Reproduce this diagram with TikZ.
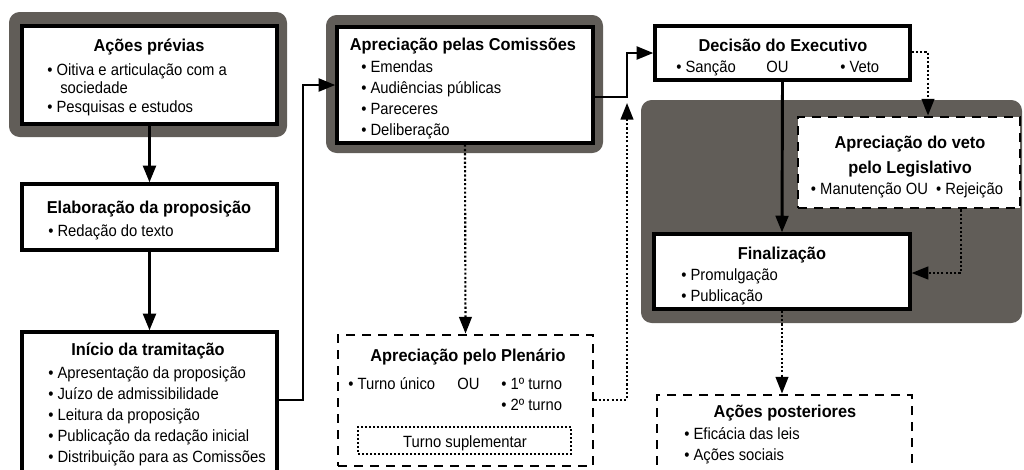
\documentclass[tikz,border=0pt]{standalone}
\usepackage{fontspec}
\setmainfont{Liberation Sans}[FakeStretch=0.91]
\newfontfamily\tfont{Liberation Sans}[FakeStretch=0.95]
\usetikzlibrary{fit,arrows.meta}
\definecolor{framegrey}{RGB}{97,93,88}
\begin{document}
\begin{tikzpicture}[x=0.75pt,y=-0.75pt,
  frame/.style={fill=framegrey,draw=none,rounded corners=8pt,inner sep=0pt},
  box/.style={draw,line width=2.4pt,fill=white,inner sep=0pt},
  dbox/.style={draw,line width=2.2pt,dash pattern=on 7pt off 5pt,fill=white,inner sep=0pt},
  sbox/.style={draw,line width=1.5pt,dash pattern=on 1.5pt off 1.5pt,inner sep=0pt},
  ttl/.style={anchor=base,inner sep=0pt,font=\tfont\bfseries\fontsize{12.9}{14}\selectfont},
  itm/.style={anchor=base west,inner sep=0pt,font=\fontsize{12.2}{14}\selectfont},
  arr/.style={line width=2.2pt,-{Triangle[length=12.5pt,width=9.5pt]}},
  dotarr/.style={line width=1.6pt,dash pattern=on 1.6pt off 1.6pt,-{Triangle[length=12.5pt,width=9.5pt]}}]
\useasboundingbox (0,0) rectangle (1024,469);
% frames
\node[frame,fit={(9,12) (287,137)}] (f1) {};
\node[frame,fit={(326,15) (603,153)}] (f4) {};
\node[frame,fit={(641,100) (1022,323)}] (reg) {};
% boxes
\node[box,fit={(22,26) (277,124)}] (b1) {};
\node[box,fit={(22,184) (277,250)}] (b2) {};
\node[box,fit={(22,332) (277,475)}] (b3) {};
\node[box,fit={(337,27) (593,143)}] (b4) {};
\node[box,fit={(655,26) (910,80)}] (dec) {};
\node[dbox,fit={(798,117) (1020,208)}] (veto) {};
\node[box,fit={(654,234) (910,309)}] (fin) {};
\node[dbox,fit={(657,395) (912,480)}] (post) {};
\node[dbox,fit={(338,335) (593,466)}] (plen) {};
\node[sbox,fit={(358,427) (571,454)}] (sup) {};
% texts box 1
\node[ttl] (t1) at (149,51) {Ações prévias};
\node[itm] (t1a) at (47,75) {• Oitiva e articulação com a};
\node[itm] (t1b) at (60,93.5) {sociedade};
\node[itm] (t1c) at (47,112) {• Pesquisas e estudos};
% box 2
\node[ttl] (t2) at (149,213) {Elaboração da proposição};
\node[itm] (t2a) at (48,236) {• Redação do texto};
% box 3
\node[ttl] (t3) at (148,355) {Início da tramitação};
\node[itm] (t3a) at (48,378) {• Apresentação da proposição};
\node[itm] (t3b) at (48,399) {• Juízo de admissibilidade};
\node[itm] (t3c) at (48,420) {• Leitura da proposição};
\node[itm] (t3d) at (48,441) {• Publicação da redação inicial};
\node[itm] (t3e) at (48,462) {• Distribuição para as Comissões};
% box 4
\node[ttl] (t4) at (463,50) {Apreciação pelas Comissões};
\node[itm] (t4a) at (361,72) {• Emendas};
\node[itm] (t4b) at (361,93) {• Audiências públicas};
\node[itm] (t4c) at (361,114) {• Pareceres};
\node[itm] (t4d) at (361,135) {• Deliberação};
% decisao
\node[ttl] (t5) at (783,51) {Decisão do Executivo};
\node[itm] (t5a) at (676,72) {• Sanção};
\node[itm] (t5b) at (766,72) {OU};
\node[itm] (t5c) at (840,72) {• Veto};
% veto
\node[ttl] (t6) at (910,148) {Apreciação do veto};
\node[ttl] (t6b) at (910,173) {pelo Legislativo};
\node[itm,anchor=base] (t6c) at (907,194) {• Manutenção OU\hspace{3pt} • Rejeição};
% finalizacao
\node[ttl] (t7) at (782,259) {Finalização};
\node[itm] (t7a) at (681,280) {• Promulgação};
\node[itm] (t7b) at (681,301) {• Publicação};
% posteriores
\node[ttl] (t8) at (785,417) {Ações posteriores};
\node[itm] (t8a) at (684,439) {• Eficácia das leis};
\node[itm] (t8b) at (684,460) {• Ações sociais};
% plenario
\node[ttl] (t9) at (468,361) {Apreciação pelo Plenário};
\node[itm] (t9a) at (348,389) {• Turno único};
\node[itm] (t9b) at (457,389) {OU};
\node[itm] (t9c) at (501,389) {• 1º turno};
\node[itm] (t9d) at (501,410) {• 2º turno};
\node[itm,anchor=base] (t9e) at (465,447) {Turno suplementar};
% connectors
\coordinate (k1) at (303,400);
\coordinate (k2) at (627,97);
\coordinate (k3) at (627,400);
\coordinate (k4) at (627,103);
\coordinate (k5) at (928,52);
\coordinate (k6) at (961,273);
\draw[arr] (b1.south) -- (b2.north);
\draw[arr] (b2.south) -- (b3.north);
\draw[arr] (k1 -| b3.east) -- (k1) |- (b4.west);
\draw[arr] (k2 -| b4.east) -- (k2) |- (dec.west);
\draw[dotarr] (b4.south) -- (plen.north);
\draw[dotarr] (k3 -| plen.east) -- (k3) -- (k4);
\draw[arr] (dec.south) -- (fin.north);
\draw[dotarr] (k5 -| dec.east) -- (k5) -- (k5 |- veto.north);
\draw[dotarr] (k6 |- veto.south) -- (k6) -- (k6 -| fin.east);
\draw[dotarr] (fin.south) -- (fin.south |- post.north);
\end{tikzpicture}
\end{document}
